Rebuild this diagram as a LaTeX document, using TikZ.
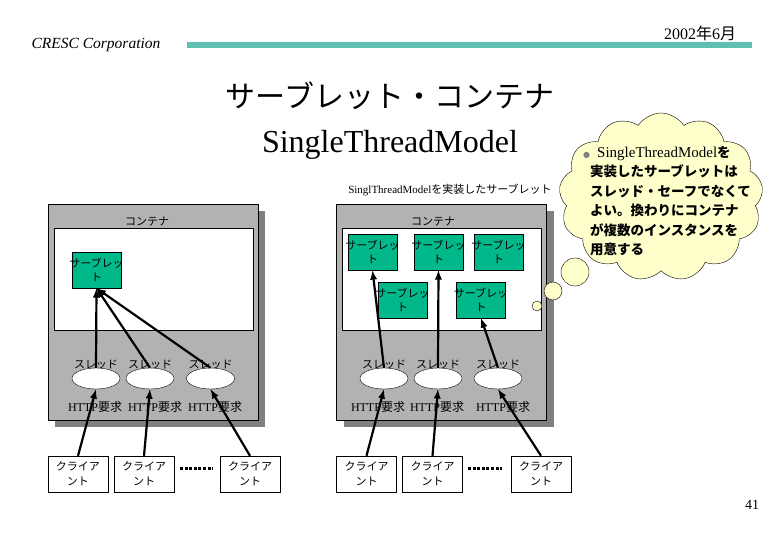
\documentclass[tikz,border=0pt]{standalone}
\usepackage{fontspec}
\setmainfont{Liberation Serif}
\newfontfamily\jp{Noto Sans CJK JP}
\newfontfamily\sym{DejaVu Sans}
\usepackage{tikz}
\usetikzlibrary{shapes.geometric, shapes.symbols, shadows, arrows, positioning}

\definecolor{srvgreen}{RGB}{0,184,138}
\definecolor{boxgray}{RGB}{178,178,178}
\definecolor{shadegray}{RGB}{128,128,128}
\definecolor{barteal}{RGB}{96,192,176}
\definecolor{cloudyellow}{RGB}{255,255,204}

\newcommand{\fsz}[2]{\fontsize{#1}{#2}\selectfont}

\tikzset{
    container/.style={draw, fill=boxgray, minimum width=210, minimum height=216, inner sep=0,
        general shadow={fill=shadegray, shadow xshift=7pt, shadow yshift=-7pt}},
    inner/.style={draw, fill=white, minimum width=199, minimum height=102, inner sep=0},
    servlet/.style={draw, fill=srvgreen, minimum width=49, minimum height=36, inner sep=0,
        text width=49pt, align=center, font=\jp\fsz{11}{13.5}},
    thread/.style={ellipse, draw, fill=white, minimum width=48, minimum height=21, inner sep=0},
    client/.style={draw, fill=white, minimum width=60, minimum height=36, inner sep=0,
        align=center, font=\jp\fsz{11}{15}},
    lbl/.style={inner sep=0, font=\jp\fsz{11}{13}},
    httplbl/.style={inner sep=0, font=\fsz{12}{14}},
    req/.style={-latex, line width=2.2pt},
    bubble/.style={circle, draw, fill=cloudyellow, inner sep=0},
}

\begin{document}
\begin{tikzpicture}[x=1pt, y=-1pt]
\useasboundingbox (0,0) rectangle (780,540);

% header
\node[inner sep=0, font=\itshape\fsz{15.5}{18}] (corp) at (96,45) {CRESC Corporation};
\fill[barteal] (187,42) rectangle (752,48);
\node[inner sep=0, font=\fsz{16}{18}] (date) at (700,33) {2002{\jp 年}6{\jp 月}};

% titles
\node[inner sep=0, font=\jp\fsz{30}{34}] (title) at (390,96) {サーブレット・コンテナ};
\node[inner sep=0, font=\fsz{32}{36}] (model) at (390,145) {SingleThreadModel};
\node[inner sep=0, font=\fsz{11}{13}] (impl) at (450,190) {SinglThreadModel{\jp を実装したサーブレット}};

% left container
\node[container] (lbox) at (153,312) {};
\node[inner] (lin) at (153.5,279) {};
\node[lbl] (lname) at (147,222) {コンテナ};
\node[servlet] (lsrv) at (96.5,270) {\makebox[49pt]{サーブレッ}\\ト};
\foreach \i/\x in {1/96,2/150,3/210.5} {
    \node[lbl] (lthrlbl\i) at (\x,365) {スレッド};
    \node[thread] (lthr\i) at (\x,378.5) {};
    \draw[req] (lthr\i.north) -- (lsrv.south);
}
\foreach \i/\x in {1/95,2/155,3/215}
    \node[httplbl] (lhttp\i) at (\x,407) {HTTP{\jp 要求}};

% right container
\node[container] (rbox) at (441.5,312) {};
\node[inner] (rin) at (442,279) {};
\node[lbl] (rname) at (433,222) {コンテナ};
\foreach \i/\x/\y in {1/372.5/252,2/438.5/252,3/498.5/252,4/402.5/300,5/481/300}
    \node[servlet] (rsrv\i) at (\x,\y) {\makebox[49pt]{サーブレッ}\\ト};
\foreach \i/\x in {1/384,2/438,3/498} {
    \node[lbl] (rthrlbl\i) at (\x,365) {スレッド};
    \node[thread] (rthr\i) at (\x,378.5) {};
}
\draw[req] (rthr1.north) -- (rsrv1.south);
\draw[req] (rthr2.north) -- (rsrv2.south);
\draw[req] (rthr3.north) -- (rsrv5.south);
\foreach \i/\x in {1/378,2/437,3/503}
    \node[httplbl] (rhttp\i) at (\x,407) {HTTP{\jp 要求}};

% clients
\foreach \i/\x in {1/78,2/144,3/250} {
    \node[client] (lcli\i) at (\x,474) {クライア\\ント};
    \draw[req] (lcli\i.north) -- (lthr\i.south);
}
\foreach \i/\x in {1/366.5,2/432.5,3/541} {
    \node[client] (rcli\i) at (\x,474) {クライア\\ント};
    \draw[req] (rcli\i.north) -- (rthr\i.south);
}
\draw[line width=3pt, dash pattern=on 3pt off 1.6pt] (180,468) -- (213,468);
\draw[line width=3pt, dash pattern=on 3pt off 1.6pt] (468,468) -- (502,468);

% thought cloud
\node[cloud, draw, fill=cloudyellow, cloud puffs=13, cloud puff arc=115, cloud ignores aspect,
    minimum width=204, minimum height=168, inner sep=0] (cloud) at (661,197) {};
\node[bubble, minimum size=28] (bub1) at (575,272) {};
\node[bubble, minimum size=18] (bub2) at (553,291) {};
\node[bubble, minimum size=10] (bub3) at (537,306) {};
\node[anchor=north west, inner sep=0, align=left, font=\jp\bfseries\fsz{13.5}{19.5}] (note) at (590,146)
    {\makebox[0pt][r]{\sym\color{gray}\fsz{8}{8}●}\hspace{7pt}{\mdseries\rmfamily\fsz{15}{19.5}SingleThreadModel}を\\
     実装したサーブレットは\\
     スレッド・セーフでなくて\\
     よい。換わりにコンテナ\\
     が複数のインスタンスを\\
     用意する};

\node[inner sep=0, font=\fsz{14}{16}] (page) at (752,505) {41};
\end{tikzpicture}
\end{document}
